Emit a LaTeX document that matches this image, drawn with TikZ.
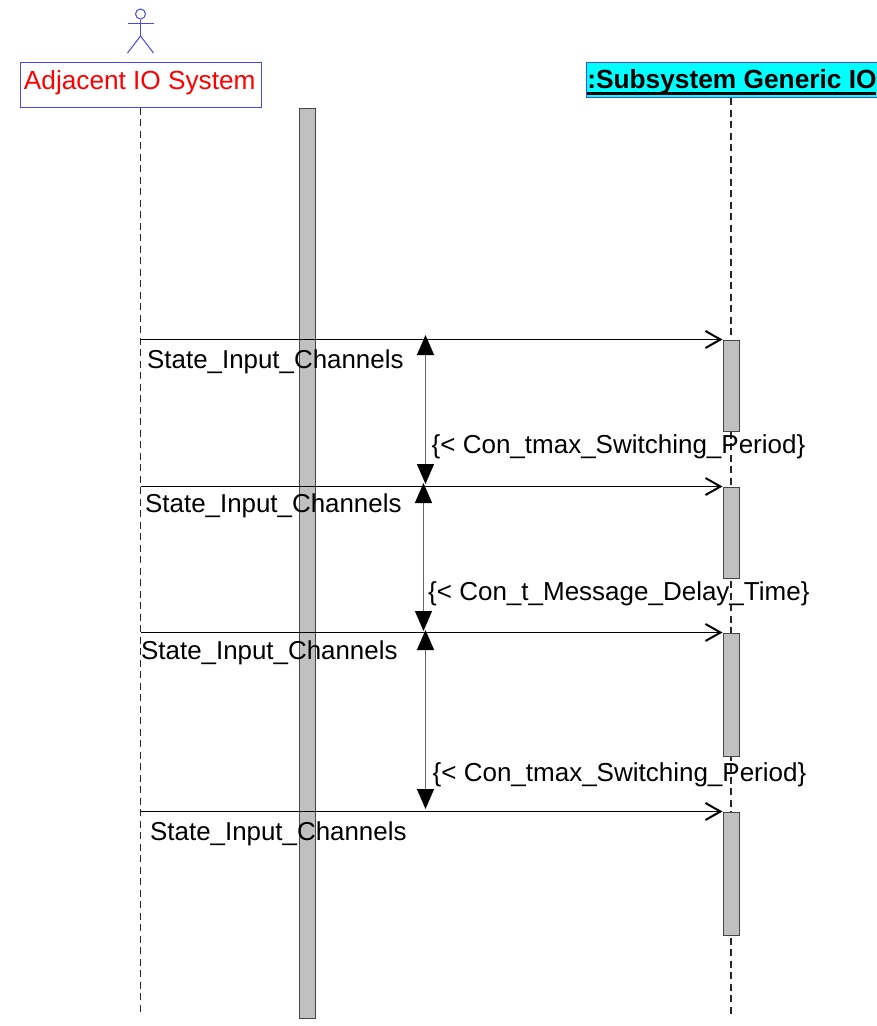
\documentclass[tikz,border=0pt]{standalone}
\usepackage{fontspec}
\setmainfont{Liberation Sans}
\usetikzlibrary{arrows.meta}
\definecolor{umlblue}{RGB}{70,70,245}
\definecolor{headcyan}{RGB}{0,255,255}
\definecolor{bargrey}{RGB}{192,192,192}
\definecolor{barline}{RGB}{70,70,70}
\tikzset{
  actorline/.style={draw=umlblue,line width=1pt},
  headbox/.style={draw=umlblue,line width=1pt,inner sep=0pt,minimum height=#1,anchor=north west},
  lifeline/.style={draw=black!85,line width=1.3pt,dash pattern=on 7pt off 4.5pt},
  barbox/.style={draw=barline,fill=bargrey,line width=1pt,inner sep=0pt,minimum width=16pt,anchor=north},
  msg/.style={draw=black,line width=1.1pt,-{Straight Barb[length=15pt,width=17pt,line width=2pt]}},
  span/.style={draw=black!60,line width=1.3pt,{Triangle[length=20pt,width=17pt,color=black]}-{Triangle[length=20pt,width=17pt,color=black]}},
  lab/.style={font=\fontsize{25.9}{30}\selectfont,inner sep=0pt,anchor=base west,text=black},
  brlab/.style={lab,font=\fontsize{26}{30}\selectfont},
}
\begin{document}
\begin{tikzpicture}[x=1pt,y=-1pt]
\useasboundingbox (0,0) rectangle (876,1026);
% central grey bar
\node[barbox,minimum height=910pt] (bar) at (307,107.5) {};
% lifeline heads
\node[headbox=45pt,minimum width=241pt,fill=white,text=red,text height=19pt,text depth=8.4pt,font=\fontsize{26.2}{30}\selectfont] (adj) at (19.5,61.5) {\hspace{-1.5pt}Adjacent IO System};
\node[headbox=35pt,minimum width=291pt,fill=headcyan,text height=25pt,text depth=8pt,font=\fontsize{26.3}{30}\selectfont\bfseries] (sub) at (586,62) {\rlap{\rule[-6.5pt]{289pt}{3pt}}:Subsystem Generic IO};
% actor
\node[draw=umlblue,line width=1pt,circle,minimum size=10pt,inner sep=0pt] (head) at (140.5,14) {};
\coordinate (hip) at (140.5,36);
\coordinate (armL) at (127.5,23);
\coordinate (armR) at (153.5,23);
\coordinate (legL) at (127.5,53);
\coordinate (legR) at (153.5,53);
\draw[actorline] (head.south) -- (hip);
\draw[actorline] (armL) -- (armR);
\draw[actorline] (legL) -- (hip) -- (legR);
% lifelines
\coordinate (adjEnd) at (140.5,1015);
\coordinate (subEnd) at (731,1018);
\draw[lifeline] (adj.south -| adjEnd) -- (adjEnd);
\draw[lifeline] (sub.south -| subEnd) -- (subEnd);
% activations
\node[barbox,minimum height=91pt] (a1) at (731,339.5) {};
\node[barbox,minimum height=91pt] (a2) at (731,486.5) {};
\node[barbox,minimum height=123pt] (a3) at (731,632.5) {};
\node[barbox,minimum height=123pt] (a4) at (731,811.5) {};
% messages
\coordinate (m1) at (140.5,339.5);
\coordinate (m2) at (140.5,486.5);
\coordinate (m3) at (140.5,632.5);
\coordinate (m4) at (140.5,811.5);
\draw[msg] (m1) -- (a1.north west);
\draw[msg] (m2) -- (a2.north west);
\draw[msg] (m3) -- (a3.north west);
\draw[msg] (m4) -- (a4.north west);
% time spans
\coordinate (s1a) at (425.5,335);
\coordinate (s1b) at (425.5,484);
\coordinate (s2a) at (423.5,483);
\coordinate (s2b) at (423.5,631);
\coordinate (s3a) at (425.5,630);
\coordinate (s3b) at (425.5,809);
\draw[span] (s1a) -- (s1b);
\draw[span] (s2a) -- (s2b);
\draw[span] (s3a) -- (s3b);
% labels
\node[lab] (l1) at (147,368) {State\_Input\_Channels};
\node[lab] (l2) at (145,512) {State\_Input\_Channels};
\node[lab] (l3) at (141,659) {State\_Input\_Channels};
\node[lab] (l4) at (150,840) {State\_Input\_Channels};
\node[brlab] (t1) at (431.5,453) {\{< Con\_tmax\_Switching\_Period\}};
\node[brlab] (t2) at (428,600) {\{< Con\_t\_Message\_Delay\_Time\}};
\node[brlab] (t3) at (432.5,781) {\{< Con\_tmax\_Switching\_Period\}};
\end{tikzpicture}
\end{document}
